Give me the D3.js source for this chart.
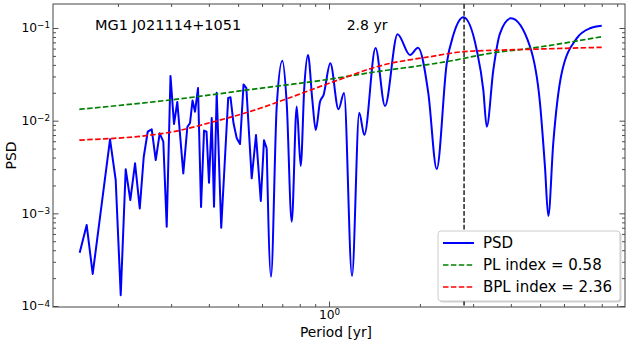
<!DOCTYPE html>
<html>
<head>
<meta charset="utf-8">
<script src="https://cdn.jsdelivr.net/npm/d3@7"></script>
<style>
  body { margin: 0; background: #fff; }
  svg { display: block; font-family: "DejaVu Sans", sans-serif; }
</style>
</head>
<body>
<svg id="chart"></svg>
<script>
// Periodogram values (period in yr, power)
var periods = [0.1494, 0.1576, 0.1650, 0.1883, 0.1966, 0.2043, 0.2122, 0.2198, 0.2279, 0.2362,
    0.2435, 0.2510, 0.2588, 0.2668, 0.2750, 0.2827, 0.2901, 0.2986, 0.3067, 0.3145,
    0.3292, 0.3395, 0.3465, 0.3532, 0.3600, 0.3683, 0.3769, 0.3856, 0.3930, 0.4005,
    0.4089, 0.4161, 0.4247, 0.4396, 0.4636, 0.4718, 0.4828, 0.4948, 0.5074, 0.5211,
    0.5324, 0.5546, 0.5731, 0.5944, 0.6091, 0.6218, 0.6425,
    0.6711, 0.7005, 0.7243, 0.7525, 0.7817, 0.8058, 0.8284, 0.8519, 0.8806, 0.9037,
    0.9337, 0.9589, 1.0099, 1.0751, 1.1213, 1.1917, 1.2589, 1.3089, 1.4256, 1.5324,
    1.6861, 1.8545, 1.9710, 2.1325, 2.2730, 2.4536, 2.5801, 2.7847, 3.0840, 3.2433,
    3.3288, 3.4995, 3.6837, 4.0051, 4.6312, 4.9954, 5.1888, 5.3218, 5.5281, 5.8956,
    6.6115, 7.3155, 7.9983];
var psd = [3.76e-4, 7.48e-4, 2.22e-4, 6.30e-3, 2.29e-3, 1.31e-4, 2.99e-3, 1.39e-3, 3.47e-3, 1.13e-3,
    4.08e-3, 7.60e-3, 8.07e-3, 3.76e-3, 7.31e-3, 5.93e-3, 7.18e-4, 3.03e-2, 9.21e-3, 1.59e-2,
    2.70e-3, 8.55e-3, 9.44e-3, 1.65e-2, 1.25e-2, 2.25e-2, 1.17e-3, 7.83e-3, 7.60e-3, 2.14e-3,
    1.07e-2, 1.18e-3, 2.00e-2, 7.00e-4, 1.76e-2, 1.79e-2, 9.37e-3, 6.45e-3, 5.60e-3, 2.46e-2,
    2.25e-2, 2.39e-3, 7.01e-3, 1.36e-3, 6.14e-3, 5.03e-3, 2.07e-4,
    1.42e-2, 4.44e-2, 1.54e-2, 8.12e-4, 1.42e-2, 3.24e-3, 2.33e-2, 5.11e-2, 1.67e-2, 7.93e-3,
    1.60e-2, 1.89e-2, 4.16e-2, 1.33e-2, 1.99e-2, 2.11e-4, 1.22e-2, 7.01e-3, 6.08e-2, 1.44e-2,
    8.57e-2, 5.11e-2, 6.13e-2, 1.97e-2, 3.01e-3, 4.16e-2, 8.40e-2, 0.1305, 5.79e-2, 2.14e-2,
    8.61e-3, 3.52e-2, 8.77e-2, 0.1273, 6.28e-2, 1.55e-2, 3.19e-3, 9.36e-4, 5.74e-3, 3.27e-2,
    7.74e-2, 9.93e-2, 0.1056];

// Fitted models (power law, bending power law)
var plPeriods = [0.149, 0.2975, 0.5908, 1.0, 1.367, 2.516, 3.413, 4.631, 8.0];
var plValues = [0.01327, 0.01671, 0.02236, 0.02796, 0.03294, 0.04405, 0.05333, 0.06037, 0.08055];
var bplPeriods = [0.149, 0.2975, 0.4036, 0.5908, 0.7059, 1.0, 1.5127, 2.160, 2.785, 4.631, 8.0];
var bplValues = [6.18e-3, 7.49e-3, 9.51e-3, 0.0136, 0.01671, 0.02531, 0.03989, 0.04903, 0.0555, 0.05892, 0.06188];

var peakPeriod = 2.8;
var sourceName = "MG1 J021114+1051";
var legendLabels = ["PSD", "PL index = 0.58", "BPL index = 2.36"];
var xDomain = [0.1219, 9.552];
var yDomain = [9.76e-5, 0.1816];

// below this period the sampling is sparse, drawn with straight segments
var smoothFrom = 0.64;

var totalW = 631, totalH = 344;
var margin = {top: 4, right: 6, bottom: 37, left: 53};
var width = totalW - margin.left - margin.right,
    height = totalH - margin.top - margin.bottom;

var svg = d3.select("#chart")
    .attr("width", totalW)
    .attr("height", totalH);

var g = svg.append("g")
    .attr("transform", "translate(" + margin.left + "," + margin.top + ")");

var x = d3.scaleLog().domain(xDomain).range([0, width]);
var y = d3.scaleLog().domain(yDomain).range([height, 0]);

svg.append("defs").append("clipPath").attr("id", "plot-clip")
    .append("rect").attr("width", width).attr("height", height);

// Ticks: inward on all four sides
var xAll = x.ticks(), yAll = y.ticks();
function isMajor(d) { return Math.abs(Math.log10(d) - Math.round(Math.log10(d))) < 1e-6; }
var xMinor = xAll.filter(function (d) { return !isMajor(d); }),
    xMajor = xAll.filter(isMajor),
    yMinor = yAll.filter(function (d) { return !isMajor(d); }),
    yMajor = yAll.filter(isMajor);

function styleAxis(sel) {
    sel.select(".domain").remove();
    sel.selectAll(".tick line").attr("stroke", "#222").attr("stroke-width", 0.8);
}

function powLabel(text) {
    text.each(function (d) {
        var e = Math.round(Math.log10(d));
        var t = d3.select(this).text(null);
        t.append("tspan").text("10");
        t.append("tspan").attr("dy", "-0.45em").attr("font-size", "8.8px")
            .text(e < 0 ? "\u2212" + (-e) : e);
    });
}

var minorLen = -3, majorLen = -5.5;

g.append("g").attr("transform", "translate(0," + height + ")")
    .call(d3.axisBottom(x).tickValues(xMinor).tickSize(minorLen).tickFormat(""))
    .call(styleAxis);
var xMaj = g.append("g").attr("transform", "translate(0," + height + ")")
    .call(d3.axisBottom(x).tickValues(xMajor).tickSize(majorLen).tickPadding(3.5).tickFormat(""))
    .call(styleAxis);
xMaj.selectAll(".tick text").attr("font-size", "12.3px").attr("fill", "#000")
    .attr("font-family", "DejaVu Sans").call(powLabel);

g.append("g")
    .call(d3.axisTop(x).tickValues(xMinor).tickSize(minorLen).tickFormat(""))
    .call(styleAxis);
g.append("g")
    .call(d3.axisTop(x).tickValues(xMajor).tickSize(majorLen).tickFormat(""))
    .call(styleAxis);

g.append("g")
    .call(d3.axisLeft(y).tickValues(yMinor).tickSize(minorLen).tickFormat(""))
    .call(styleAxis);
var yMaj = g.append("g")
    .call(d3.axisLeft(y).tickValues(yMajor).tickSize(majorLen).tickPadding(3).tickFormat(""))
    .call(styleAxis);
yMaj.selectAll(".tick text").attr("font-size", "12.3px").attr("fill", "#000")
    .attr("font-family", "DejaVu Sans").call(powLabel);

g.append("g").attr("transform", "translate(" + width + ",0)")
    .call(d3.axisRight(y).tickValues(yMinor).tickSize(minorLen).tickFormat(""))
    .call(styleAxis);
g.append("g").attr("transform", "translate(" + width + ",0)")
    .call(d3.axisRight(y).tickValues(yMajor).tickSize(majorLen).tickFormat(""))
    .call(styleAxis);

// Curves
var pts = periods.map(function (p, i) { return {p: p, v: psd[i]}; });
var splitAt = periods.findIndex(function (p) { return p > smoothFrom; });
var jagged = pts.slice(0, splitAt),
    smooth = pts.slice(splitAt - 1);

var lineLin = d3.line().x(function (d) { return x(d.p); }).y(function (d) { return y(d.v); });
var lineSmooth = d3.line().x(function (d) { return x(d.p); }).y(function (d) { return y(d.v); })
    .curve(d3.curveMonotoneX);

var plot = g.append("g").attr("clip-path", "url(#plot-clip)");

[jagged, smooth].forEach(function (part, k) {
    plot.append("path")
        .datum(part)
        .attr("d", k === 0 ? lineLin : lineSmooth)
        .attr("fill", "none")
        .attr("stroke", "#0000ff")
        .attr("stroke-width", 2)
        .attr("stroke-linejoin", "round");
});

var dash = "5.5,2.4";
plot.append("path")
    .datum(plPeriods.map(function (p, i) { return {p: p, v: plValues[i]}; }))
    .attr("d", lineSmooth)
    .attr("fill", "none")
    .attr("stroke", "#008000")
    .attr("stroke-width", 1.7)
    .attr("stroke-dasharray", dash);

plot.append("path")
    .datum(bplPeriods.map(function (p, i) { return {p: p, v: bplValues[i]}; }))
    .attr("d", lineSmooth)
    .attr("fill", "none")
    .attr("stroke", "#ff0000")
    .attr("stroke-width", 1.7)
    .attr("stroke-dasharray", dash);

// Vertical marker at the peak period
plot.append("line")
    .attr("x1", x(peakPeriod)).attr("x2", x(peakPeriod))
    .attr("y1", 0).attr("y2", height)
    .attr("stroke", "#000")
    .attr("stroke-width", 1.3)
    .attr("stroke-dasharray", "4.8,2.1");

// Frame
g.append("rect")
    .attr("width", width).attr("height", height)
    .attr("fill", "none").attr("stroke", "#444").attr("stroke-width", 1);

// Texts inside the axes
g.append("text")
    .attr("x", 42).attr("y", 25.5)
    .attr("font-size", "14.5px")
    .text(sourceName);

g.append("text")
    .attr("x", 293.7).attr("y", 25.5)
    .attr("font-size", "14px")
    .text(peakPeriod + " yr");

// Axis labels
svg.append("text")
    .attr("x", margin.left + width / 2 - 3).attr("y", 337)
    .attr("text-anchor", "middle")
    .attr("font-size", "13.8px")
    .text("Period [yr]");

svg.append("text")
    .attr("transform", "translate(16," + (margin.top + height / 2) + ") rotate(-90)")
    .attr("text-anchor", "middle")
    .attr("font-size", "14px")
    .text("PSD");

// Legend
var leg = svg.append("g").attr("transform", "translate(438,231)");
leg.append("rect")
    .attr("x", 1.5).attr("y", 1.5)
    .attr("width", 182).attr("height", 70).attr("rx", 3)
    .attr("fill", "#000").attr("opacity", 0.18);
leg.append("rect")
    .attr("width", 182).attr("height", 70).attr("rx", 3)
    .attr("fill", "#fff").attr("stroke", "#cccccc").attr("stroke-width", 1);

var legColors = ["#0000ff", "#008000", "#ff0000"];
legendLabels.forEach(function (label, i) {
    var ry = 12 + i * 22;
    leg.append("line")
        .attr("x1", 5).attr("x2", 36)
        .attr("y1", ry).attr("y2", ry)
        .attr("stroke", legColors[i])
        .attr("stroke-width", i === 0 ? 2 : 1.7)
        .attr("stroke-dasharray", i === 0 ? null : dash);
    leg.append("text")
        .attr("x", 45).attr("y", ry + 5.4)
        .attr("font-size", "15px")
        .text(label);
});
</script>
</body>
</html>
